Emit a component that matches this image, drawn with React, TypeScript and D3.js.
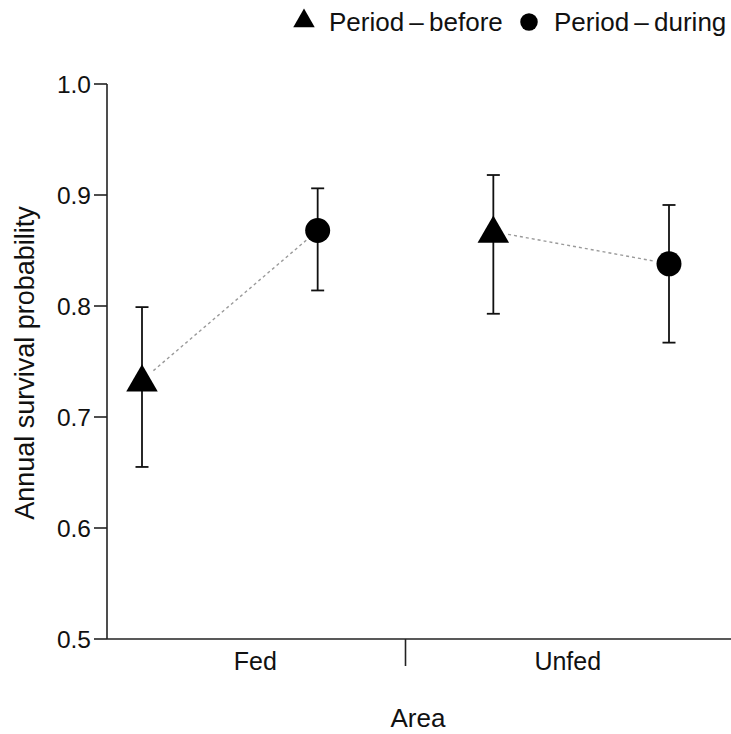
import React, { useEffect, useRef } from "react";
import * as d3 from "d3";

// categories
const areas = ["Fed", "Unfed"];
const periods = ["before", "during"];
const periodLabels = ["Period\u2009\u2013\u2009before", "Period\u2009\u2013\u2009during"];

// annual survival estimates, per area, ordered as periods
const fedEstimate = [0.733, 0.868];
const fedLower = [0.655, 0.814];
const fedUpper = [0.799, 0.906];
const unfedEstimate = [0.867, 0.838];
const unfedLower = [0.793, 0.767];
const unfedUpper = [0.918, 0.891];

const yTicks = [0.5, 0.6, 0.7, 0.8, 0.9, 1.0];

const W = 731;
const H = 734;
const FONT = "'Liberation Sans', Arial, Helvetica, sans-serif";

const App: React.FC = () => {
  const svgRef = useRef<SVGSVGElement>(null);

  useEffect(() => {
    if (!svgRef.current) return;
    const svg = d3.select(svgRef.current);
    svg.selectAll("*").remove();

    const axisLeft = 107;
    const axisBottom = 639;

    const y = d3.scaleLinear().domain([0.5, 1.0]).range([axisBottom, 84]);

    const slots = areas.flatMap(a => periods.map(p => `${a}-${p}`));
    const xSlot = d3.scalePoint<string>().domain(slots).range([142, 669]);
    const xLabel = d3.scaleBand<string>().domain(areas).range([99, 724]);

    const rows = [
      { area: "Fed", est: fedEstimate, lo: fedLower, hi: fedUpper },
      { area: "Unfed", est: unfedEstimate, lo: unfedLower, hi: unfedUpper },
    ];

    const points = rows.flatMap(r =>
      periods.map((p, i) => ({
        area: r.area,
        period: p,
        x: xSlot(`${r.area}-${p}`) as number,
        est: r.est[i],
        lo: r.lo[i],
        hi: r.hi[i],
      }))
    );

    // marker shapes (R pch 17 / pch 19 look)
    const triangle = d3.symbol().type(d3.symbolTriangle).size(430);
    const circle = d3.symbol().type(d3.symbolCircle).size(490);
    const marker = (p: string) => (p === "before" ? triangle() : circle());

    // dotted connectors, with a gap around each point
    const gap = 15;
    rows.forEach(r => {
      const a = points.filter(d => d.area === r.area);
      const x1 = a[0].x, y1 = y(a[0].est), x2 = a[1].x, y2 = y(a[1].est);
      const len = Math.hypot(x2 - x1, y2 - y1);
      const ux = (x2 - x1) / len, uy = (y2 - y1) / len;
      svg.append("line")
        .attr("x1", x1 + ux * gap).attr("y1", y1 + uy * gap)
        .attr("x2", x2 - ux * gap).attr("y2", y2 - uy * gap)
        .attr("stroke", "#9a9a9a")
        .attr("stroke-width", 1.4)
        .attr("stroke-dasharray", "3,3");
    });

    // error bars
    const capW = 6.5;
    const eb = svg.append("g").attr("stroke", "#111").attr("stroke-width", 1.8);
    points.forEach(d => {
      eb.append("line").attr("x1", d.x).attr("x2", d.x).attr("y1", y(d.lo)).attr("y2", y(d.hi));
      eb.append("line").attr("x1", d.x - capW).attr("x2", d.x + capW).attr("y1", y(d.lo)).attr("y2", y(d.lo));
      eb.append("line").attr("x1", d.x - capW).attr("x2", d.x + capW).attr("y1", y(d.hi)).attr("y2", y(d.hi));
    });

    // points
    svg.append("g").selectAll("path")
      .data(points)
      .join("path")
      .attr("d", d => marker(d.period))
      .attr("transform", d => `translate(${d.x},${y(d.est) + (d.period === "before" ? 2 : 0)})`)
      .attr("fill", "#000");

    // y axis
    const yg = svg.append("g").attr("transform", `translate(${axisLeft},0)`);
    yg.append("line").attr("x1", 0).attr("x2", 0).attr("y1", y(1.0)).attr("y2", axisBottom)
      .attr("stroke", "#222").attr("stroke-width", 1.6);
    yTicks.forEach(t => {
      yg.append("line").attr("x1", -13).attr("x2", 0).attr("y1", y(t)).attr("y2", y(t))
        .attr("stroke", "#222").attr("stroke-width", 1.6);
      yg.append("text")
        .attr("x", -16).attr("y", y(t))
        .attr("dy", "0.36em")
        .attr("text-anchor", "end")
        .attr("font-size", 24.5)
        .attr("font-family", FONT)
        .attr("fill", "#111")
        .text(t.toFixed(1));
    });

    // x axis
    const xg = svg.append("g");
    xg.append("line").attr("x1", axisLeft).attr("x2", W).attr("y1", axisBottom).attr("y2", axisBottom)
      .attr("stroke", "#222").attr("stroke-width", 1.6);
    const sep = ((xSlot("Fed-during") as number) + (xSlot("Unfed-before") as number)) / 2;
    xg.append("line").attr("x1", sep).attr("x2", sep).attr("y1", axisBottom).attr("y2", axisBottom + 27)
      .attr("stroke", "#222").attr("stroke-width", 1.6);
    areas.forEach(a => {
      xg.append("text")
        .attr("x", (xLabel(a) as number) + xLabel.bandwidth() / 2)
        .attr("y", 670)
        .attr("text-anchor", "middle")
        .attr("font-size", 25)
        .attr("font-family", FONT)
        .attr("fill", "#111")
        .text(a);
    });

    // axis titles
    svg.append("text")
      .attr("x", 418).attr("y", 727)
      .attr("text-anchor", "middle")
      .attr("font-size", 26)
      .attr("font-family", FONT)
      .attr("fill", "#111")
      .text("Area");

    svg.append("text")
      .attr("transform", `translate(34,${363}) rotate(-90)`)
      .attr("text-anchor", "middle")
      .attr("font-size", 27)
      .attr("font-family", FONT)
      .attr("fill", "#111")
      .text("Annual survival probability");

    // legend
    const legendX = [304, 529];
    const lg = svg.append("g");
    periods.forEach((p, i) => {
      const sym = p === "before"
        ? d3.symbol().type(d3.symbolTriangle).size(200)()
        : d3.symbol().type(d3.symbolCircle).size(240)();
      lg.append("path")
        .attr("d", sym)
        .attr("transform", `translate(${legendX[i]},${p === "before" ? 21 : 22})`)
        .attr("fill", "#000");
      lg.append("text")
        .attr("x", legendX[i] + 25).attr("y", 31)
        .attr("font-size", 26)
        .attr("font-family", FONT)
        .attr("fill", "#111")
        .text(periodLabels[i]);
    });
  }, []);

  return (
    <svg
      ref={svgRef}
      width={W}
      height={H}
      style={{ position: "absolute", left: 0, top: 0, background: "white", display: "block" }}
    />
  );
};

export default App;
